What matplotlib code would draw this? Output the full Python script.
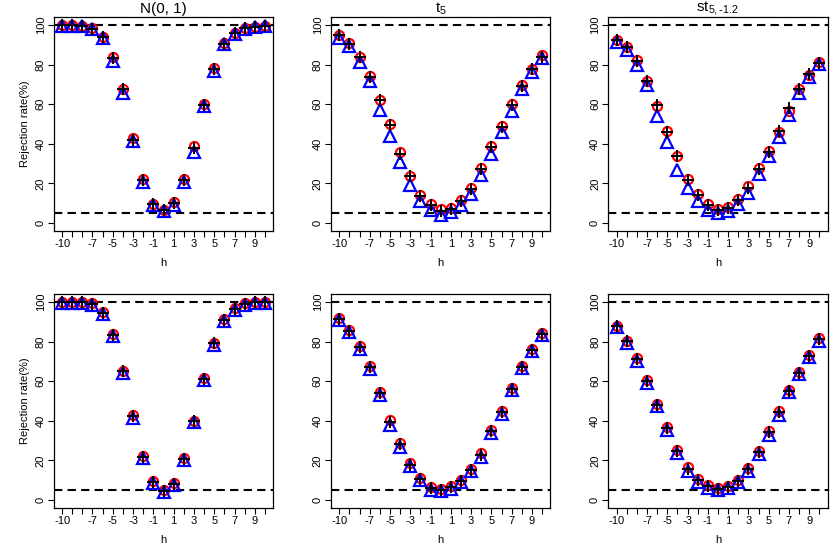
import numpy as np
import matplotlib.pyplot as plt

plt.rcParams['font.family'] = ['Liberation Sans', 'DejaVu Sans']

h = list(range(-10, 11))

# top row: N(0,1), t5, st(5,-1.2) -- red circles, blue triangles, black pluses
n01_circ = [100, 100, 99.6, 98.3, 94.1, 84.0, 67.8, 43.0, 22.3, 9.8, 6.7,
            10.8, 22.3, 38.8, 60.4, 78.4, 91.0, 96.1, 98.3, 99.0, 99.5]
n01_tri = [99.5, 99.5, 99.3, 97.8, 93.6, 82.0, 65.8, 41.3, 21.0, 9.0, 5.9,
           9.3, 21.0, 35.8, 59.0, 77.0, 90.4, 95.5, 98.0, 98.8, 99.3]
n01_plus = [100, 99.8, 99.5, 98.2, 94.0, 83.5, 67.5, 42.2, 21.8, 9.4, 6.4,
            10.1, 21.8, 38.0, 59.7, 78.0, 90.7, 96.0, 98.3, 99.0, 99.5]

t5_circ = [94.8, 91.0, 84.0, 74.2, 62.4, 50.3, 35.8, 24.0, 14.0, 9.6, 7.1,
           7.6, 11.8, 17.7, 27.8, 38.8, 48.9, 59.9, 69.5, 77.9, 84.7]
t5_tri = [93.6, 89.4, 81.3, 71.7, 57.3, 44.2, 30.7, 19.4, 11.3, 6.7, 4.2,
          5.4, 9.3, 14.8, 24.5, 35.1, 45.9, 56.5, 67.5, 76.2, 83.5]
t5_plus = [94.8, 90.7, 84.0, 73.9, 62.0, 49.7, 35.1, 23.6, 13.5, 8.9, 6.2,
           7.1, 11.3, 17.2, 27.3, 38.4, 48.4, 59.4, 69.1, 77.6, 84.0]

st_circ = [92.4, 89.0, 82.3, 71.7, 59.0, 46.7, 34.0, 22.3, 14.8, 9.8, 7.1,
           8.1, 12.1, 18.5, 27.8, 36.3, 45.9, 56.5, 67.5, 75.0, 81.3]
st_tri = [91.4, 87.4, 79.6, 69.5, 54.3, 40.8, 27.0, 17.7, 11.0, 6.4, 5.1,
          5.9, 9.8, 15.2, 25.0, 34.1, 43.5, 54.8, 65.8, 73.9, 80.4]
st_plus = [92.4, 89.0, 81.8, 71.7, 59.4, 46.0, 33.7, 21.9, 14.3, 9.3, 6.4,
           7.6, 11.8, 17.7, 27.3, 35.8, 46.7, 58.2, 67.5, 75.5, 80.9]

# bottom row
n01b_plus = [100, 100, 100, 99.0, 94.4, 83.5, 65.0, 42.3, 21.8, 9.2, 4.6,
             8.3, 21.0, 39.8, 61.3, 79.1, 91.0, 96.5, 99.0, 99.8, 100]
n01b_circ = [100, 100, 100, 99.3, 94.8, 84.0, 65.4, 42.8, 22.2, 9.6, 5.0,
             8.7, 21.4, 40.2, 61.7, 79.5, 91.3, 96.8, 99.3, 100, 100]
n01b_tri = [99.6, 99.6, 99.6, 98.6, 93.9, 83.0, 64.4, 41.7, 21.2, 8.6, 4.0,
            7.7, 20.4, 39.2, 60.7, 78.5, 90.5, 96.0, 98.6, 99.4, 99.6]

t5b_plus = [91.6, 85.5, 77.2, 67.1, 54.0, 39.5, 28.2, 17.9, 10.6, 5.9, 5.1,
            6.4, 9.6, 15.2, 23.0, 35.1, 44.7, 56.2, 67.3, 75.9, 84.0]
t5b_circ = [92.0, 86.0, 77.6, 67.7, 54.5, 40.5, 28.8, 18.7, 11.0, 6.4, 5.6,
            6.9, 10.1, 15.6, 23.6, 35.6, 45.2, 56.8, 67.8, 76.3, 84.5]
t5b_tri = [91.0, 85.0, 76.5, 66.0, 53.0, 38.0, 27.0, 17.0, 10.0, 5.2, 4.4,
           5.6, 8.9, 14.5, 22.0, 34.0, 43.7, 55.4, 66.5, 75.3, 83.3]

stb_plus = [87.7, 80.1, 71.2, 60.2, 48.1, 36.6, 24.8, 15.9, 10.1, 7.0, 5.7,
            6.7, 9.8, 15.5, 24.5, 34.2, 44.3, 55.3, 64.3, 73.0, 81.3]
stb_circ = [88.0, 80.6, 71.7, 60.7, 48.6, 37.1, 25.2, 16.5, 10.5, 7.4, 6.1,
            7.1, 10.2, 16.0, 25.0, 34.8, 44.8, 55.8, 64.7, 73.4, 81.7]
stb_tri = [87.2, 79.4, 70.3, 59.2, 47.3, 35.6, 23.8, 14.8, 9.3, 6.3, 5.1,
           6.0, 9.0, 14.6, 23.4, 33.0, 43.2, 54.5, 63.5, 72.4, 80.5]

titles = ['N(0, 1)', r'$\mathregular{t_5}$', r'$\mathregular{st_{5,\text{-}1.2}}$']
panels = [
    [(n01_circ, n01_tri, n01_plus), (t5_circ, t5_tri, t5_plus), (st_circ, st_tri, st_plus)],
    [(n01b_circ, n01b_tri, n01b_plus), (t5b_circ, t5b_tri, t5b_plus), (stb_circ, stb_tri, stb_plus)],
]
xticklab = {-10: '-10', -7: '-7', -5: '-5', -3: '-3', -1: '-1', 1: '1', 3: '3', 5: '5', 7: '7', 9: '9'}

fig = plt.figure(figsize=(8.3, 5.54), dpi=100)
lefts = [0.065, 0.399, 0.733]
bottoms = [0.583, 0.083]
w, ht = 0.264, 0.386

for r in range(2):
    for c in range(3):
        ax = fig.add_axes([lefts[c], bottoms[r], w, ht])
        circ, tri, plus = panels[r][c]
        ax.axhline(100, color='black', ls=(0, (4, 2.5)), lw=1.5, zorder=1)
        ax.axhline(5, color='black', ls=(0, (4, 2.5)), lw=1.5, zorder=1)
        ax.plot(h, circ, 'o', mfc='none', mec='red', ms=6.5, mew=1.6, zorder=2)
        ax.plot(h, tri, '^', mfc='none', mec='blue', ms=8, mew=1.6, zorder=3)
        ax.plot(h, plus, '+', color='black', ms=9, mew=1.4, zorder=4)
        ax.set_xlim(-10.8, 10.8)
        ax.set_ylim(-4, 104)
        ax.set_xticks(h)
        ax.set_xticklabels([xticklab.get(v, '') for v in h])
        ax.set_yticks([0, 20, 40, 60, 80, 100])
        ax.set_yticklabels(['0', '20', '40', '60', '80', '100'], rotation=90, va='center')
        ax.tick_params(labelsize=8, length=4, width=0.8, pad=2)
        ax.set_xlabel('h', fontsize=8, labelpad=6)
        for s in ax.spines.values():
            s.set_linewidth(0.9)
        if c == 0:
            ax.set_ylabel('Rejection rate(%)', fontsize=8, labelpad=4)
        if r == 0:
            ax.set_title(titles[c], fontsize=11, pad=3)

fig.savefig('out.png', dpi=100)
